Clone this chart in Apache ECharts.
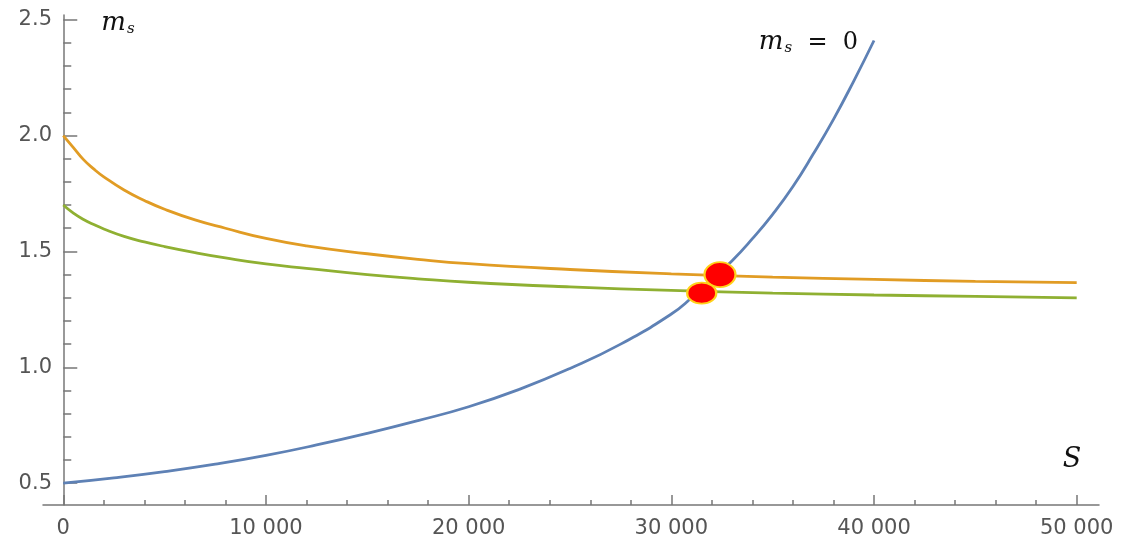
<!DOCTYPE html>
<html>
<head>
<meta charset="utf-8">
<style>
  html, body { margin: 0; padding: 0; background: #fff; }
  #chart { width: 1128px; height: 542px; }
</style>
<script src="https://cdn.jsdelivr.net/npm/echarts@6/dist/echarts.min.js"></script>
</head>
<body>
<div id="chart"></div>
<script>
// values
const blueS = [0, 2500, 5000, 7500, 10000, 12500, 15000, 17500, 20000, 22500, 25000, 27500, 30000,
  31000, 32000, 33000, 34000, 35000, 36000, 37000, 38000, 39000, 40000]
const blueM = [0.50, 0.523, 0.55, 0.582, 0.62, 0.665, 0.715, 0.77, 0.83, 0.905, 0.995, 1.10, 1.23,
  1.30, 1.38, 1.46, 1.555, 1.66, 1.78, 1.92, 2.07, 2.235, 2.41]

const orangeS = [0, 500, 1000, 1500, 2000, 3000, 4000, 5000, 6500, 8000, 10000, 12000, 15000, 17500, 20000, 25000, 30000, 35000, 40000, 45000, 50000]
const orangeM = [2.00, 1.948, 1.896, 1.856, 1.822, 1.765, 1.72, 1.682, 1.636, 1.60, 1.556, 1.524, 1.49, 1.466, 1.447, 1.422, 1.403, 1.389, 1.379, 1.371, 1.365]

const greenS = [0, 500, 1000, 1500, 2000, 3000, 4000, 5000, 6500, 8000, 10000, 12000, 15000, 17500, 20000, 25000, 30000, 35000, 40000, 45000, 50000]
const greenM = [1.70, 1.665, 1.638, 1.616, 1.597, 1.565, 1.541, 1.521, 1.495, 1.472, 1.446, 1.427, 1.40, 1.382, 1.367, 1.347, 1.332, 1.32, 1.312, 1.306, 1.30]

const dotS = [32400, 31500]
const dotM = [1.40, 1.32]

const xMajorTicks = [0, 10000, 20000, 30000, 40000, 50000]
const xMinorTicks = [2000, 4000, 6000, 8000, 12000, 14000, 16000, 18000, 22000, 24000, 26000, 28000,
  32000, 34000, 36000, 38000, 42000, 44000, 46000, 48000]
const yMajorTicks = [0.5, 1.0, 1.5, 2.0, 2.5]
const yMinorTicks = [0.6, 0.7, 0.8, 0.9, 1.1, 1.2, 1.3, 1.4, 1.6, 1.7, 1.8, 1.9, 2.1, 2.2, 2.3, 2.4]

const pairs = (xs, ys) => xs.map((x, i) => [x, ys[i]])

const axisColor = '#777'
const labelColor = '#555'
const italic = { fontFamily: 'DejaVu Serif', fontStyle: 'italic', color: '#111' }
const msRich = {
  m: { ...italic, fontSize: 26 },
  s: { ...italic, fontSize: 15, padding: [12, 0, 0, 1] },
  t: { fontFamily: 'DejaVu Serif', fontSize: 24, color: '#111' }
}

const X_MIN = -1000, X_MAX = 51100
const Y_MIN = 0.406, Y_MAX = 2.52

const chart = echarts.init(document.getElementById('chart'))

const option = {
  animation: false,
  backgroundColor: '#fff',
  grid: { left: 43, right: 29, top: 15, bottom: 37, containLabel: false, outerBoundsMode: 'none' },
  xAxis: [
    {
      type: 'value',
      min: X_MIN,
      max: X_MAX,
      name: 'S',
      nameLocation: 'end',
      nameGap: -27,
      nameTextStyle: { ...italic, fontSize: 27, align: 'center', verticalAlign: 'bottom', padding: [0, 0, 32, 0] },
      axisLine: { show: true, lineStyle: { color: axisColor, width: 1.5 } },
      axisTick: { show: true, inside: true, length: 10, customValues: xMajorTicks, lineStyle: { color: axisColor, width: 1.5 } },
      axisLabel: {
        customValues: xMajorTicks,
        margin: 13,
        color: labelColor,
        fontFamily: 'DejaVu Sans',
        fontSize: 21,
        formatter: v => String(v).replace(/\B(?=(\d{3})+(?!\d))/g, ' ')
      },
      splitLine: { show: false }
    },
    {
      type: 'value',
      min: X_MIN,
      max: X_MAX,
      position: 'bottom',
      axisLine: { show: false },
      axisTick: { show: true, inside: true, length: 5, customValues: xMinorTicks, lineStyle: { color: axisColor, width: 1.5 } },
      axisLabel: { show: false },
      splitLine: { show: false }
    }
  ],
  yAxis: [
    {
      type: 'value',
      min: Y_MIN,
      max: Y_MAX,
      name: '{m|m}{s|s}',
      nameLocation: 'end',
      nameGap: -8,
      nameTextStyle: {
        align: 'left',
        verticalAlign: 'middle',
        padding: [0, 0, 0, 38],
        rich: msRich
      },
      axisLine: { show: true, onZero: true, lineStyle: { color: axisColor, width: 1.5 } },
      axisTick: { show: true, inside: true, length: 14, customValues: yMajorTicks, lineStyle: { color: axisColor, width: 1.5 } },
      axisLabel: {
        customValues: yMajorTicks,
        margin: -9,
        color: labelColor,
        fontFamily: 'DejaVu Sans',
        fontSize: 21,
        formatter: v => v.toFixed(1)
      },
      splitLine: { show: false }
    },
    {
      type: 'value',
      min: Y_MIN,
      max: Y_MAX,
      position: 'left',
      axisLine: { show: false, onZero: true },
      axisTick: { show: true, inside: true, length: 8, customValues: yMinorTicks, lineStyle: { color: axisColor, width: 1.5 } },
      axisLabel: { show: false },
      splitLine: { show: false }
    }
  ],
  series: [
    {
      name: 'orange',
      type: 'line',
      data: pairs(orangeS, orangeM),
      showSymbol: false,
      smooth: 0.5,
      lineStyle: { color: '#E19C24', width: 2.8 },
      z: 2
    },
    {
      name: 'green',
      type: 'line',
      data: pairs(greenS, greenM),
      showSymbol: false,
      smooth: 0.5,
      lineStyle: { color: '#8FB032', width: 2.8 },
      z: 2
    },
    {
      name: 'blue',
      type: 'line',
      data: pairs(blueS, blueM),
      showSymbol: false,
      smooth: 0.5,
      lineStyle: { color: '#5E81B5', width: 2.8 },
      endLabel: {
        show: true,
        align: 'right',
        verticalAlign: 'middle',
        offset: [-24, 2],
        formatter: '{m|m}{s|s}{t|  =  0}',
        rich: msRich
      },
      z: 3
    },
    {
      name: 'dots',
      type: 'scatter',
      data: pairs(dotS, dotM).map((p, i) => ({ value: p, symbolSize: i === 0 ? [31, 25] : [29, 21] })),
      symbol: 'circle',
      itemStyle: { color: '#FF0000', opacity: 1, borderColor: '#FFD21A', borderWidth: 2 },
      z: 5
    }
  ]
}

chart.setOption(option)
</script>
</body>
</html>
